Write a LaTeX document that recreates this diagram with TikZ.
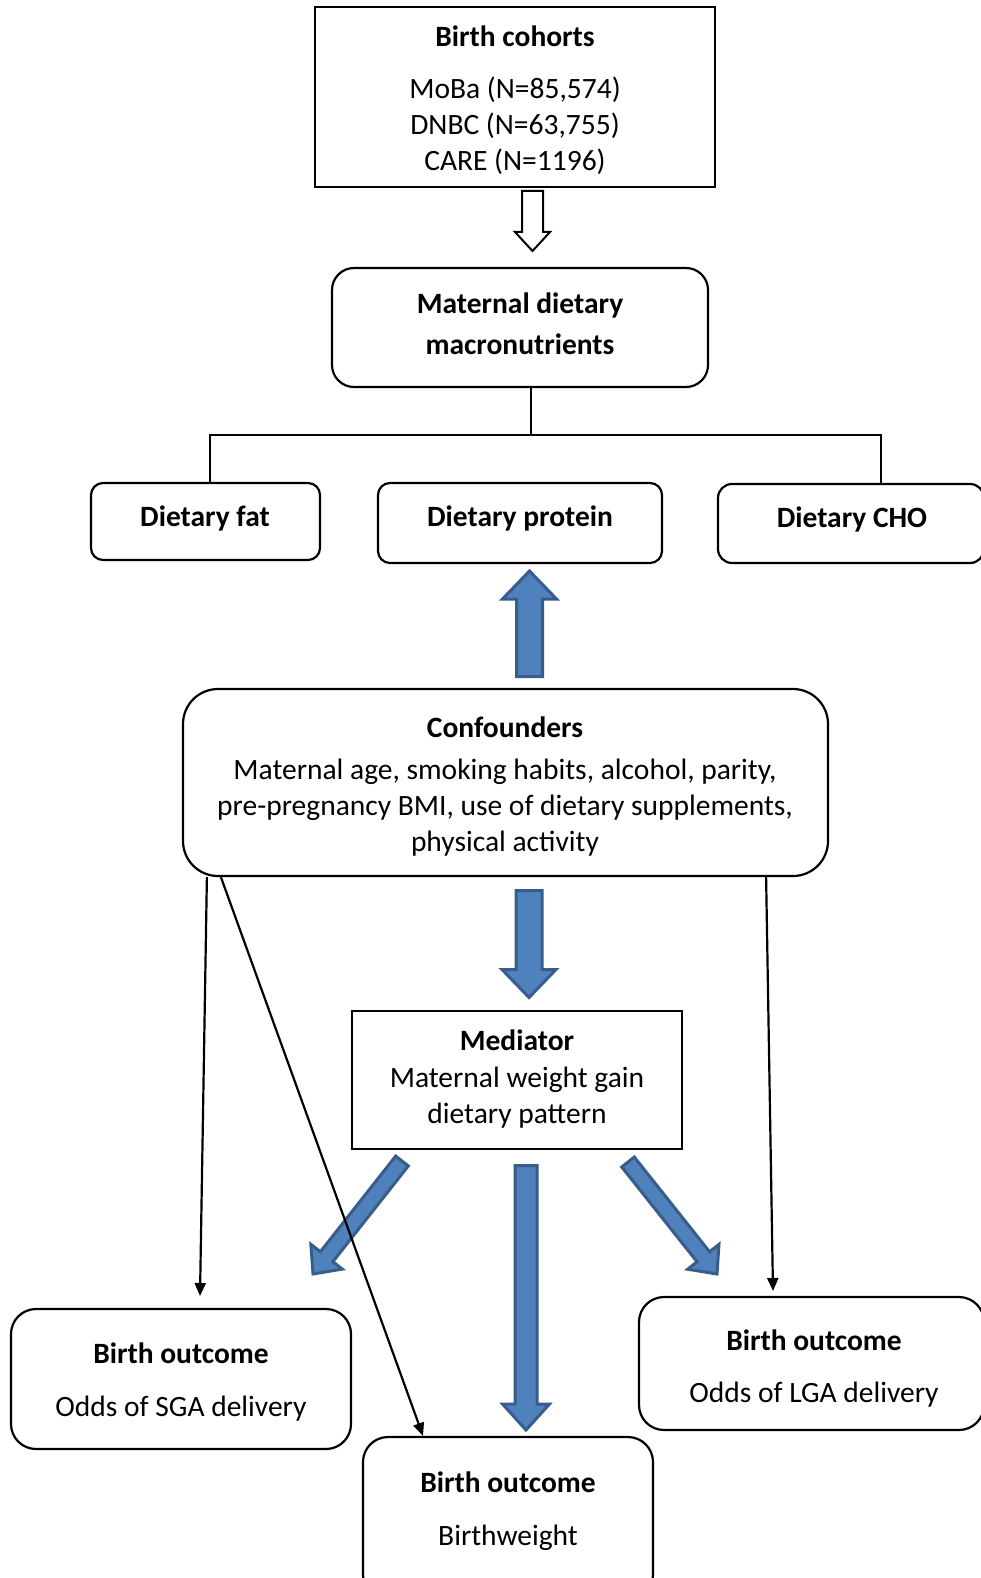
\documentclass[tikz,border=0pt]{standalone}
\usepackage{fontspec}
\setmainfont{Carlito}
\usetikzlibrary{calc,arrows.meta}
\definecolor{blueA}{HTML}{4F81BD}
\definecolor{blueB}{HTML}{385D8A}
\newcommand\myblockarrow[6]{%
  \coordinate (ba-h) at ($(#2)!#5!(#1)$);
  \draw[#6] ($(#1)!#3!90:(#2)$) -- ($(ba-h)!#3!-90:(#1)$) -- ($(ba-h)!#4!-90:(#1)$) -- (#2) -- ($(ba-h)!#4!90:(#1)$) -- ($(ba-h)!#3!90:(#1)$) -- ($(#1)!#3!-90:(#2)$) -- cycle;}
\begin{document}
\begin{tikzpicture}[x=1pt,y=-1pt,
  box/.style={draw, line width=2.2pt, inner sep=0pt},
  t/.style={font=\fontsize{29.5}{36}\selectfont, inner sep=0pt, anchor=base},
  bt/.style={t, font=\fontsize{29.5}{36}\selectfont\bfseries},
  conn/.style={line width=2pt},
  thinarr/.style={line width=2.2pt, -{Triangle[length=13pt,width=11pt]}},
  bluearr/.style={fill=blueA, draw=blueB, line width=3pt, line join=miter},
  hollow/.style={draw=black, fill=white, line width=2pt, line join=miter},
]
\useasboundingbox (0,0) rectangle (981,1578);
\clip (0,0) rectangle (981,1578);
\fill[white] (0,0) rectangle (981,1578);

% boxes
\node[box, minimum width=400pt, minimum height=180pt] (coh) at (515,97) {};
\node[box, rounded corners=22pt, minimum width=376pt, minimum height=119pt] (mat) at (520,327.5) {};
\node[box, rounded corners=12pt, minimum width=229pt, minimum height=77pt] (fat) at (205.5,521.5) {};
\node[box, rounded corners=12pt, minimum width=284pt, minimum height=80pt] (pro) at (520,523) {};
\node[box, rounded corners=14pt, minimum width=266pt, minimum height=79pt] (cho) at (851,523.5) {};
\node[box, rounded corners=35pt, minimum width=645pt, minimum height=187pt] (conf) at (505.5,782.5) {};
\node[box, minimum width=330pt, minimum height=138pt] (med) at (517,1080) {};
\node[box, rounded corners=25pt, minimum width=340pt, minimum height=140pt] (sga) at (181,1379) {};
\node[box, rounded corners=25pt, minimum width=290pt, minimum height=163pt] (bw) at (508,1518.5) {};
\node[box, rounded corners=25pt, minimum width=345pt, minimum height=133pt] (lga) at (811.5,1363.5) {};

% texts
\node[bt] (cohT) at (515,47) {Birth cohorts};
\node[t] (coh1) at (515,99) {MoBa (N=85,574)};
\node[t] (coh2) at (515,135) {DNBC (N=63,755)};
\node[t] (coh3) at (515,171) {CARE (N=1196)};
\node[bt] (mat1) at (520,313) {Maternal dietary};
\node[bt] (mat2) at (520,354) {macronutrients};
\node[bt] (fatT) at (205,526) {Dietary fat};
\node[bt] (proT) at (520,526) {Dietary protein};
\node[bt] (choT) at (852,527) {Dietary CHO};
\node[bt] (confT) at (505,737) {Confounders};
\node[t] (conf1) at (505,779) {Maternal age, smoking habits, alcohol, parity,};
\node[t] (conf2) at (505,815) {pre-pregnancy BMI, use of dietary supplements,};
\node[t] (conf3) at (505,851) {physical activity};
\node[bt] (medT) at (517,1050) {Mediator};
\node[t] (med1) at (517,1087) {Maternal weight gain};
\node[t] (med2) at (517,1123) {dietary pattern};
\node[bt] (sgaT) at (181,1363) {Birth outcome};
\node[t] (sga1) at (181,1416) {Odds of SGA delivery};
\node[bt] (bwT) at (508,1492) {Birth outcome};
\node[t] (bw1) at (508,1545) {Birthweight};
\node[bt] (lgaT) at (814,1350) {Birth outcome};
\node[t] (lga1) at (814,1402) {Odds of LGA delivery};

% tree connector
\coordinate (jc) at (531,435);
\coordinate (jl) at (210,435);
\coordinate (jr) at (881,435);
\draw[conn] (mat.south -| jc) -- (jc);
\draw[conn] (fat.north -| jl) -- (jl) -- (jr) -- (cho.north -| jr);

% hollow arrow
\coordinate (hS) at (532.5,191);
\coordinate (hT) at (532.5,251);
\myblockarrow{hS}{hT}{10.5pt}{17.5pt}{19pt}{hollow}

% blue arrows
\coordinate (uS) at (529.5,676.5);
\coordinate (uT) at (529.5,571);
\myblockarrow{uS}{uT}{13pt}{27pt}{28pt}{bluearr}
\coordinate (dS) at (529,890.5);
\coordinate (dT) at (529,997.5);
\myblockarrow{dS}{dT}{13pt}{27pt}{28pt}{bluearr}
\coordinate (bS) at (526,1165.5);
\coordinate (bT) at (526,1430);
\myblockarrow{bS}{bT}{11pt}{23.5pt}{26pt}{bluearr}
\coordinate (lS) at (402,1161);
\coordinate (lT) at (313,1274);
\myblockarrow{lS}{lT}{8pt}{20pt}{22pt}{bluearr}
\coordinate (rS) at (628,1162);
\coordinate (rT) at (717,1274);
\myblockarrow{rS}{rT}{8pt}{20pt}{22pt}{bluearr}

% thin arrows
\coordinate (e1) at (200,1296);
\coordinate (e2) at (423,0);
\coordinate (e3) at (773,1291);
\draw[thinarr] ([xshift=25pt]conf.south west) -- (e1);
\draw[thinarr] ([xshift=39pt]conf.south west) -- (bw.north -| e2);
\draw[thinarr] ([xshift=-63pt]conf.south east) -- (e3);
\end{tikzpicture}
\end{document}
